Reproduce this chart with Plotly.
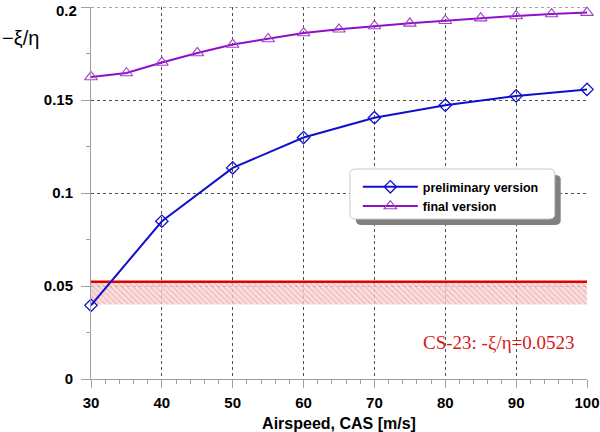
import plotly.graph_objects as go

# ---- data ----
speed_prelim = [30, 40, 50, 60, 70, 80, 90, 100]
xi_eta_prelim = [0.0396, 0.0848, 0.1135, 0.1298, 0.1405, 0.1472, 0.1522, 0.1557]

speed_final = [30, 35, 40, 45, 50, 55, 60, 65, 70, 75, 80, 85, 90, 95, 100]
xi_eta_final = [0.1624, 0.1645, 0.1702, 0.1753, 0.1798, 0.1828, 0.1860, 0.1880,
                0.1898, 0.1912, 0.1926, 0.1940, 0.1952, 0.1962, 0.1970]

limit_x = [30, 100]
cs23_limit = 0.0523
band_low = 0.040

x_ticks = [30, 40, 50, 60, 70, 80, 90, 100]
y_ticks = [0, 0.05, 0.1, 0.15, 0.2]
y_tick_labels = ["0", "0.05", "0.1", "0.15", "0.2"]

SANS = "Arial, Liberation Sans, sans-serif"
SERIF = "Times New Roman, Liberation Serif, serif"

fig = go.Figure()

# hatched band under the CS-23 limit
fig.add_trace(go.Scatter(
    x=limit_x, y=[band_low] * len(limit_x), mode="lines",
    line=dict(width=0, color="rgba(0,0,0,0)"), showlegend=False, hoverinfo="skip"))
fig.add_trace(go.Scatter(
    x=limit_x, y=[cs23_limit] * len(limit_x), mode="lines",
    line=dict(width=2.5, color="#E00000"), fill="tonexty",
    fillcolor="rgba(240,190,190,0.5)",
    fillpattern=dict(shape="\\", fgcolor="rgba(225,130,130,0.85)", bgcolor="rgba(248,215,215,0.75)",
                     size=4, solidity=0.35),
    showlegend=False, hoverinfo="skip"))

fig.add_trace(go.Scatter(
    x=speed_prelim, y=xi_eta_prelim, mode="lines+markers", name="preliminary version",
    line=dict(color="#1010CC", width=2),
    marker=dict(symbol="diamond-open", size=9.5, color="#1010CC", line=dict(width=1.3)),
    cliponaxis=False))
fig.add_trace(go.Scatter(
    x=speed_final, y=xi_eta_final, mode="lines+markers", name="final version",
    line=dict(color="#9010C8", width=2),
    marker=dict(symbol="triangle-up-open", size=11, color="#A040C8", line=dict(width=1.1)),
    cliponaxis=False))

# top gridline (plotly drops gridlines on the plot edge)
fig.add_shape(type="line", xref="paper", x0=0, x1=1, yref="y", y0=y_ticks[-1], y1=y_ticks[-1],
              line=dict(color="#505050", width=1, dash="dot"), layer="below")

# legend box (rounded, with shadow)
def rounded(x0, y0, x1, y1, r):
    return (f"M {x0+r},{y0} L {x1-r},{y0} Q {x1},{y0} {x1},{y0+r} "
            f"L {x1},{y1-r} Q {x1},{y1} {x1-r},{y1} L {x0+r},{y1} "
            f"Q {x0},{y1} {x0},{y1-r} L {x0},{y0+r} Q {x0},{y0} {x0+r},{y0} Z")

bx0, bx1, by0, by1 = 0.522, 0.935, 0.430, 0.5645
sx, sy = 0.012, 0.016
fig.add_shape(type="path", xref="paper", yref="paper", layer="above",
              path=rounded(bx0 + sx, by0 - sy, bx1 + sx, by1 - sy, 0.012),
              fillcolor="#808080", line=dict(width=0))
fig.add_shape(type="path", xref="paper", yref="paper", layer="above",
              path=rounded(bx0, by0, bx1, by1, 0.012),
              fillcolor="white", line=dict(width=1, color="#C8C8C8"))

fig.add_annotation(x=0.822, y=0.0197, xref="paper", yref="y", text="CS-23: -ξ/η=0.0523",
                   xanchor="center", yanchor="middle",
                   showarrow=False, font=dict(family=SERIF, size=19, color="#D81818"))
fig.add_annotation(x=-0.1835, y=0.916, xref="paper", yref="paper", text="−ξ/η",
                   showarrow=False, xanchor="left", yanchor="middle",
                   font=dict(family=SANS, size=20, color="black"))
# top tick label, nudged down so it stays inside the page (as in the reference)
fig.add_annotation(x=0, y=y_ticks[-1], xref="paper", yref="y", text=y_tick_labels[-1],
                   showarrow=False, xanchor="right", yanchor="middle", xshift=-12, yshift=-3,
                   font=dict(family=SANS, size=15, color="black", weight="bold"))

fig.update_layout(
    width=600, height=432,
    margin=dict(l=91, r=13, t=7, b=53),
    paper_bgcolor="white", plot_bgcolor="white",
    font=dict(family=SANS, color="black"),
    showlegend=True,
    legend=dict(x=0.538, y=0.556, xanchor="left", yanchor="top", traceorder="normal",
                bgcolor="rgba(0,0,0,0)", borderwidth=0,
                font=dict(family=SANS, size=12.5, color="black", weight="bold"),
                itemwidth=55, tracegroupgap=0),
    xaxis=dict(range=[30, 100], tickvals=x_ticks, ticks="outside", ticklen=8,
               automargin=False, ticklabeloverflow="allow", ticklabelstandoff=2,
               tickcolor="#A0A0A0", showline=True, linecolor="#A0A0A0", linewidth=1,
               showgrid=True, gridcolor="#505050", griddash="dot", gridwidth=1,
               zeroline=False,
               tickfont=dict(family=SANS, size=15, weight="bold"),
               minor=dict(dtick=2, ticks="outside", ticklen=4, tickcolor="#A0A0A0", showgrid=False),
               title=dict(text="Airspeed, CAS [m/s]", standoff=10,
                          font=dict(family=SANS, size=16, weight="bold"))),
    yaxis=dict(range=[0, 0.2], tickvals=y_ticks,
               ticktext=y_tick_labels[:-1] + [""],
               ticks="outside", ticklen=9,
               automargin=False, ticklabeloverflow="allow", ticklabelstandoff=5,
               tickcolor="#A0A0A0", showline=True, linecolor="#A0A0A0", linewidth=1,
               showgrid=True, gridcolor="#505050", griddash="dot", gridwidth=1,
               zeroline=False,
               tickfont=dict(family=SANS, size=15, weight="bold"),
               minor=dict(dtick=0.025, ticks="outside", ticklen=4, tickcolor="#A0A0A0", showgrid=False)),
)

fig.write_html("out.html", config={"displayModeBar": False},
               post_script="document.body.style.margin='0';document.body.style.overflow='hidden';")
